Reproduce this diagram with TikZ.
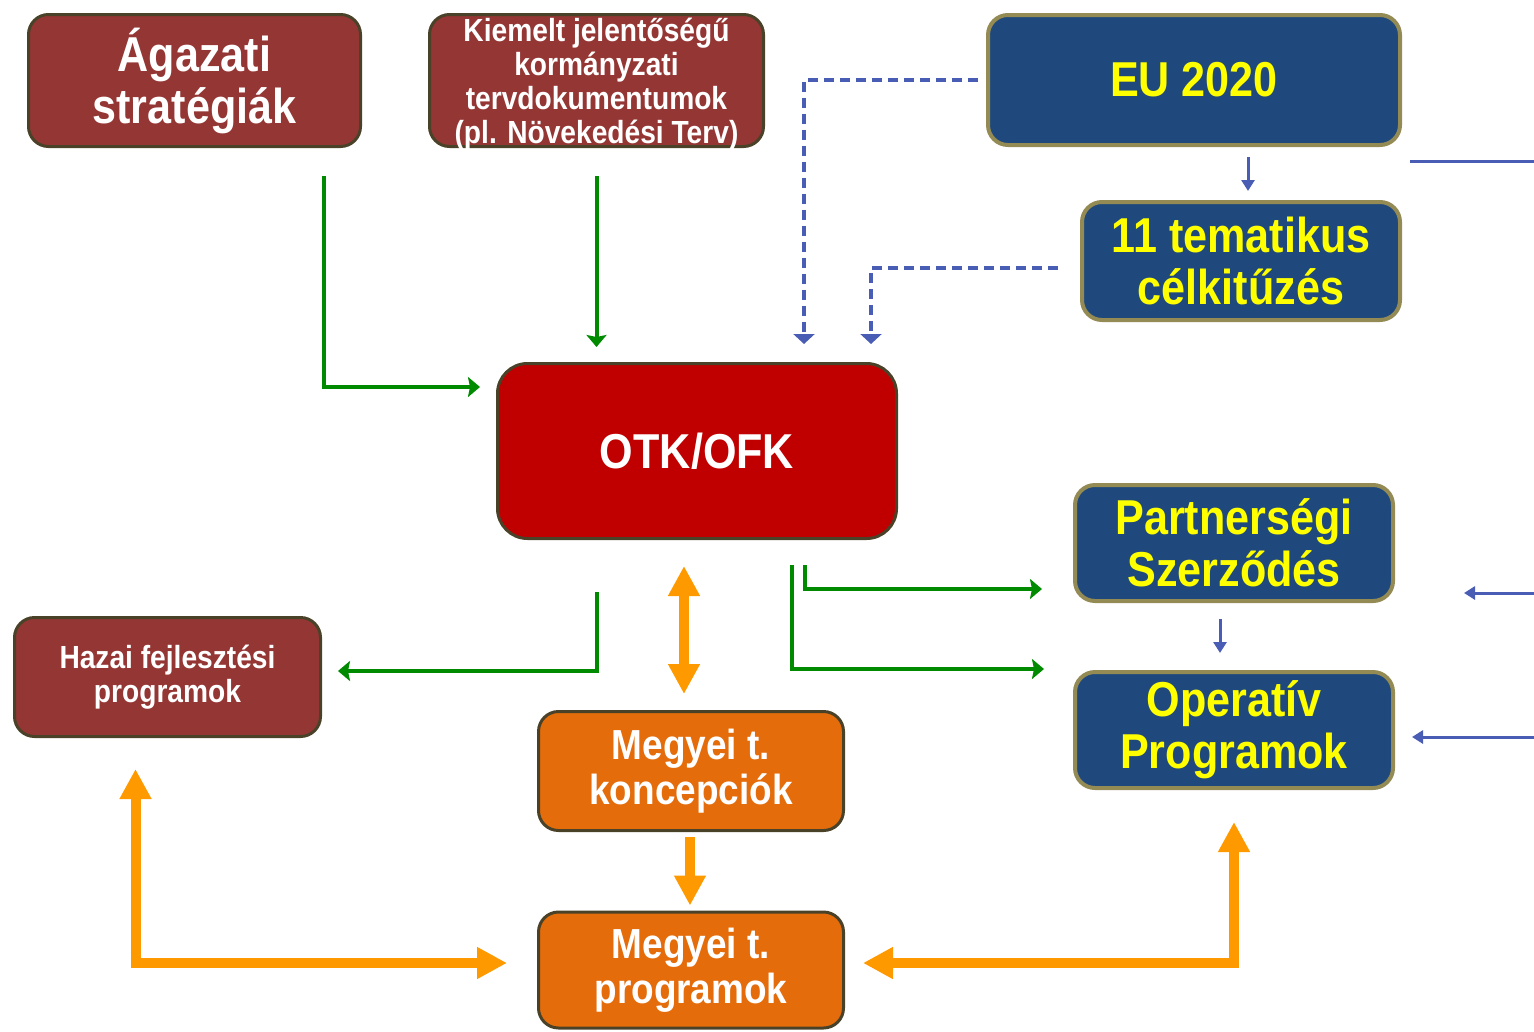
\documentclass[tikz,border=0pt]{standalone}
\usepackage{fontspec}
\setmainfont{Liberation Sans}[FakeStretch=0.88]
\usetikzlibrary{arrows.meta,calc}

\definecolor{brickred}{HTML}{943634}
\definecolor{signalred}{HTML}{C00000}
\definecolor{navyfill}{HTML}{1F497D}
\definecolor{khaki}{HTML}{948A54}
\definecolor{pumpkin}{HTML}{E46C0A}
\definecolor{boxline}{HTML}{4A4228}
\definecolor{leafgreen}{HTML}{008A00}
\definecolor{linkblue}{HTML}{4A5DB5}
\definecolor{amber}{HTML}{FF9900}
\definecolor{lemon}{HTML}{FFFF00}

\begin{document}
\begin{tikzpicture}[
        x=1pt, y=-1pt,
        box/.style={draw=boxline, line width=3pt, rounded corners=20pt,
            align=center, text=white, inner sep=0pt},
        redbox/.style={box, fill=brickred},
        otkbox/.style={box, fill=signalred, rounded corners=30pt},
        bluebox/.style={box, fill=navyfill, draw=khaki, line width=4pt, text=lemon},
        orangebox/.style={box, fill=pumpkin},
        bigtext/.style={font=\bfseries\fontsize{49}{52}\selectfont},
        midtext/.style={font=\bfseries\fontsize{42}{45}\selectfont},
        smalltext/.style={font=\bfseries\fontsize{32}{34}\selectfont},
        hazaitext/.style={font=\bfseries\fontsize{32}{34}\selectfont},
        greenlink/.style={draw=leafgreen, line width=4pt,
            -{Stealth[length=12pt,width=20pt,inset=2pt]}},
        dashlink/.style={draw=linkblue, line width=3.5pt, dash pattern=on 10pt off 6pt,
            -{Triangle[length=10pt,width=21pt]}},
        bluelink/.style={draw=linkblue, line width=3pt,
            -{Triangle[length=11pt,width=13pt]}},
        orangelink/.style={draw=amber, line width=10pt,
            >={Triangle[length=30pt,width=30pt]}}
    ]
    \useasboundingbox (0,0) rectangle (1534,1031);

    % top row
    \node[redbox, bigtext, minimum width=332pt, minimum height=132pt] (agazati) at (194.5,80.5) {Ágazati\\stratégiák};
    \node[redbox, smalltext, minimum width=334pt, minimum height=132pt, text depth=-3pt] (kiemelt) at (596.5,80.5) {Kiemelt jelentőségű\\kormányzati\\tervdokumentumok\\(pl. Növekedési Terv)};
    \node[bluebox, bigtext, minimum width=412pt, minimum height=130pt] (eu) at (1194,80) {EU 2020};
    \node[bluebox, bigtext, minimum width=318pt, minimum height=118pt] (tematikus) at (1241,261) {11 tematikus\\célkitűzés};

    % middle
    \node[otkbox, bigtext, minimum width=399pt, minimum height=175pt] (otk) at (697,451) {OTK/OFK};
    \node[bluebox, bigtext, minimum width=318pt, minimum height=116pt] (partner) at (1234,543) {Partnerségi\\Szerződés};
    \node[bluebox, bigtext, minimum width=318pt, minimum height=116pt] (operativ) at (1234,730) {Operatív\\Programok};
    \node[redbox, hazaitext, minimum width=306pt, minimum height=119pt] (hazai) at (167.5,677) {Hazai fejlesztési\\programok};

    % bottom
    \node[orangebox, midtext, minimum width=305pt, minimum height=119pt] (koncepcio) at (691,771) {Megyei t.\\koncepciók};
    \node[orangebox, midtext, minimum width=305pt, minimum height=116pt] (programok) at (691,970) {Megyei t.\\programok};

    % loose ends at the right edge
    \coordinate (edgeA) at (1534,161);
    \coordinate (edgeB) at (1534,593);
    \coordinate (edgeC) at (1534,737);

    % green links
    \draw[greenlink] ($(agazati.south east)+(-38,28)$) |- ($(otk.north west)+(-16,25)$);
    \draw[greenlink] ($(kiemelt.south)+(0,28)$) -- ($(kiemelt.south |- otk.north)+(0,-15)$);
    \draw[greenlink] ($(otk.south west)+(101,52)$) |- ($(hazai.east)+(16,-6)$);
    \draw[greenlink] ($(otk.south west)+(309,25)$) |- ($(partner.west)+(-31,46)$);
    \draw[greenlink] ($(otk.south west)+(296,25)$) |- ($(operativ.west)+(-29,-61)$);

    % blue links
    \draw[dashlink] ($(eu.west)+(-8,0)$) -| ($(otk.north west)+(308,-18)$);
    \draw[dashlink] ($(tematikus.west)+(-22,7)$) -| ($(otk.north west)+(375,-18)$);
    \draw[bluelink] ($(eu.south)+(54,10)$) -- ($(tematikus.north)+(7,-9)$);
    \draw[draw=linkblue, line width=3pt] ($(eu.east |- edgeA)+(8,0)$) -- (edgeA);
    \draw[bluelink] (edgeB) -- ($(partner.east)+(69,50)$);
    \draw[bluelink] (edgeC) -- ($(operativ.east)+(17,7)$);
    \draw[bluelink] ($(partner.south)+(-14,16)$) -- ($(operativ.north)+(-14,-17)$);

    % orange links
    \draw[orangelink, <->] ($(otk.south)+(-13,26)$) -- ($(koncepcio.north)+(-7,-16)$);
    \draw[orangelink, ->] ($(koncepcio.south)+(-1,5)$) -- ($(programok.north)+(-1,-5)$);
    \draw[orangelink, <->] ($(hazai.south)+(-32,31)$) |- ($(programok.west)+(-30,-7)$);
    \draw[orangelink, <->] ($(operativ.south)+(0,32)$) |- ($(programok.east)+(18,-7)$);
\end{tikzpicture}
\end{document}
